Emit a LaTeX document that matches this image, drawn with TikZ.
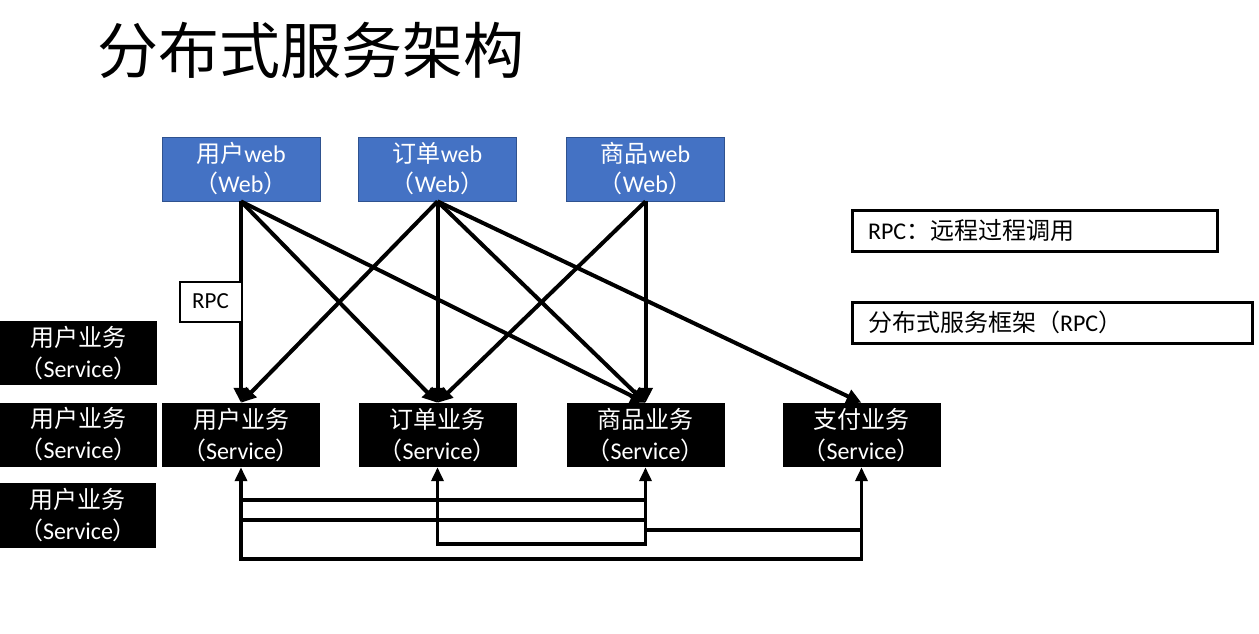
\documentclass[tikz,border=0pt]{standalone}
\usepackage{fontspec}
\setmainfont{Carlito}
\newfontfamily\cjk{Noto Sans CJK SC}
\usetikzlibrary{arrows.meta}
\definecolor{webblue}{HTML}{4472C4}
\definecolor{webedge}{HTML}{2F528F}
\newcommand\zh[1]{{\cjk #1}}
\begin{document}
\begin{tikzpicture}[x=1pt,y=-1pt,
  webbox/.style={rectangle, fill=webblue, draw=webedge, line width=0.8pt, minimum width=158pt, minimum height=64pt, inner sep=0pt, text=white, align=center, font=\fontsize{24}{30}\selectfont},
  svcbox/.style={rectangle, fill=black, minimum width=158pt, minimum height=64pt, inner sep=0pt, text=white, align=center, font=\fontsize{24}{31}\selectfont},
  notebox/.style={rectangle, draw=black, fill=white, line width=3pt, minimum height=41pt, inner sep=0pt, align=left, font=\fontsize{24}{28}\selectfont},
  conn/.style={line width=4pt, -{Triangle[length=15pt,width=14pt]}},
  bus/.style={line width=3.5pt, line join=miter},
  busarr/.style={bus, {Triangle[length=14pt,width=12pt]}-{Triangle[length=14pt,width=12pt]}}
]
\useasboundingbox[fill=white] (0,0) rectangle (1259,633);

% title
\node[anchor=center, font=\fontsize{61}{66}\selectfont\cjk] (title) at (311,50) {分布式服务架构};

% web nodes
\node[webbox] (uw) at (241,169) {\zh{用户}web\\\zh{（}Web\zh{）}};
\node[webbox] (ow) at (437.5,169) {\zh{订单}web\\\zh{（}Web\zh{）}};
\node[webbox] (pw) at (645.5,169) {\zh{商品}web\\\zh{（}Web\zh{）}};

% service nodes
\node[svcbox] (us) at (241,435) {\zh{用户业务}\\\zh{（}Service\zh{）}};
\node[svcbox] (os) at (437.5,435) {\zh{订单业务}\\\zh{（}Service\zh{）}};
\node[svcbox] (ps) at (645.5,435) {\zh{商品业务}\\\zh{（}Service\zh{）}};
\node[svcbox] (zs) at (861.5,435) {\zh{支付业务}\\\zh{（}Service\zh{）}};

% left replicas
\node[svcbox, minimum width=157pt] (l1) at (78.5,353) {\zh{用户业务}\\\zh{（}Service\zh{）}};
\node[svcbox, minimum width=157pt] (l2) at (78.5,434.5) {\zh{用户业务}\\\zh{（}Service\zh{）}};
\node[svcbox, minimum width=156pt, minimum height=65pt] (l3) at (78,515.5) {\zh{用户业务}\\\zh{（}Service\zh{）}};

% top connectors
\draw[conn] (uw.south) -- (us.north);
\draw[conn] (uw.south) -- (os.north);
\draw[conn] (uw.south) -- (ps.north);
\draw[conn] (ow.south) -- (us.north);
\draw[conn] (ow.south) -- (os.north);
\draw[conn] (ow.south) -- (ps.north);
\draw[conn] (ow.south) -- (zs.north);
\draw[conn] (pw.south) -- (os.north);
\draw[conn] (pw.south) -- (ps.north);

% RPC label
\node[rectangle, draw=black, fill=white, line width=2pt, minimum width=62pt, minimum height=40pt, inner sep=0pt, font=\fontsize{23}{26}\selectfont] (rpc) at (210.5,301.5) {RPC};

% bottom bus
\coordinate (y1) at (0,500);
\coordinate (y2) at (0,520);
\coordinate (y3) at (0,530);
\coordinate (y4) at (0,544);
\coordinate (y5) at (0,559);
\draw[busarr] (us.south) -- (us.south |- y5) -- (zs.south |- y5) -- (zs.south);
\draw[busarr] (os.south) -- (os.south |- y4) -- (ps.south |- y4) -- (ps.south);
\draw[bus] (us.south |- y1) -- (ps.south |- y1);
\draw[bus] (us.south |- y2) -- (ps.south |- y2);
\draw[bus] (ps.south |- y3) -- (zs.south |- y3);

% notes
\node[notebox, minimum width=365pt, text width=353pt] (n1) at (1034.5,230.5) {\hspace*{10pt}RPC\zh{：远程过程调用}};
\node[notebox, minimum width=400pt, text width=388pt] (n2) at (1052,322.5) {\hspace*{10pt}\zh{分布式服务框架（}RPC\zh{）}};
\end{tikzpicture}
\end{document}
